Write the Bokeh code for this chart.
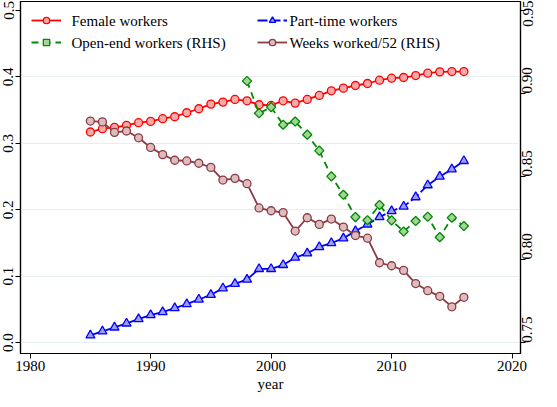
from bokeh.plotting import figure
from bokeh.models import Range1d, LinearAxis, FixedTicker, Legend, LegendItem, NumeralTickFormatter, Label
from bokeh.embed import file_html
from bokeh.resources import INLINE
import math

years = [1985, 1986, 1987, 1988, 1989, 1990, 1991, 1992, 1993, 1994, 1995, 1996,
         1997, 1998, 1999, 2000, 2001, 2002, 2003, 2004, 2005, 2006, 2007, 2008,
         2009, 2010, 2011, 2012, 2013, 2014, 2015, 2016]
female = [0.317, 0.322, 0.324, 0.327, 0.331, 0.333, 0.337, 0.340, 0.346, 0.352, 0.359, 0.362,
          0.366, 0.364, 0.358, 0.357, 0.364, 0.3605, 0.366, 0.372, 0.379, 0.383, 0.387, 0.390,
          0.395, 0.398, 0.399, 0.402, 0.4055, 0.4075, 0.408, 0.408]
parttime = [0.011, 0.017, 0.023, 0.029, 0.0356, 0.0415, 0.046, 0.052, 0.058, 0.065, 0.072, 0.082,
            0.0886, 0.095, 0.111, 0.111, 0.117, 0.128, 0.1345, 0.144, 0.150, 0.157, 0.168, 0.178,
            0.189, 0.198, 0.205, 0.219, 0.237, 0.250, 0.261, 0.2735]
weeks = [0.8834, 0.8829, 0.8766, 0.8774, 0.8733, 0.8675, 0.8632, 0.8598, 0.8594, 0.858, 0.8555, 0.8479,
         0.8489, 0.8457, 0.8311, 0.8294, 0.8283, 0.8172, 0.8252, 0.8212, 0.8244, 0.8196, 0.8145, 0.8129,
         0.7981, 0.7963, 0.7935, 0.7856, 0.7813, 0.7779, 0.7716, 0.7773]
oe_years = [1998, 1999, 2000, 2001, 2002, 2003, 2004, 2005, 2006, 2007, 2008, 2009, 2010,
            2011, 2012, 2013, 2014, 2015, 2016]
openend = [0.9075, 0.8881, 0.8918, 0.8812, 0.8831, 0.8752, 0.8656, 0.8501, 0.8390, 0.8256,
           0.8237, 0.8329, 0.8236, 0.8169, 0.8232, 0.8258, 0.8135, 0.8252, 0.8202]

series_labels = ["Female workers", "Part-time workers",
                 "Open-end workers (RHS)", "Weeks worked/52 (RHS)"]
left_ticks = [0.0, 0.1, 0.2, 0.3, 0.4, 0.5]
right_ticks = [0.75, 0.80, 0.85, 0.90, 0.95]
x_ticks = [1980, 1990, 2000, 2010, 2020]

FONT = "Liberation Serif"
FS = "15px"

X0, X1 = 1979.2, 2020.7
Y0, Y1 = -0.0163, 0.5134

p = figure(frame_width=500, frame_height=352, output_backend="svg", toolbar_location=None,
           x_range=Range1d(X0, X1), y_range=Range1d(Y0, Y1),
           min_border_left=19, min_border_right=0, min_border_top=1, min_border_bottom=0,
           background_fill_color="white", border_fill_color="white")
p.extra_y_ranges = {"rhs": Range1d(0.74348, 0.95536)}

p.outline_line_color = "black"
p.outline_line_width = 1.2
p.xgrid.visible = False
p.ygrid.ticker = FixedTicker(ticks=[0.0, 0.1, 0.2, 0.3, 0.4])
p.ygrid.grid_line_color = "#e6eff0"
p.ygrid.grid_line_width = 1.2

rax = LinearAxis(y_range_name="rhs")
p.add_layout(rax, "right")

p.xaxis.ticker = FixedTicker(ticks=x_ticks)
p.yaxis[0].ticker = FixedTicker(ticks=left_ticks)
p.yaxis[0].formatter = NumeralTickFormatter(format="0.0")
rax.ticker = FixedTicker(ticks=right_ticks)
rax.formatter = NumeralTickFormatter(format="0.00")
p.xaxis.axis_label = "year"

for ax in [p.xaxis[0], p.yaxis[0], rax]:
    ax.axis_line_color = "black"
    ax.axis_line_width = 1.2
    ax.major_tick_line_color = "black"
    ax.major_tick_out = 5
    ax.major_tick_in = 0
    ax.minor_tick_line_color = None
    ax.major_label_text_font = FONT
    ax.major_label_text_font_size = FS
    ax.major_label_text_color = "black"
    ax.axis_label_text_font = FONT
    ax.axis_label_text_font_size = FS
    ax.axis_label_text_font_style = "normal"
    ax.axis_label_text_color = "black"
    ax.major_label_standoff = 2
p.yaxis[0].major_label_orientation = "vertical"
rax.major_label_orientation = math.pi / 2
p.xaxis.axis_label_standoff = 2

l1 = p.line(years, female, line_color="#ff0000", line_width=1.8)
s1 = p.scatter(years, female, marker="circle", size=8, line_color="#ff0000",
               fill_color="#f6a9a9", line_width=1.3)

l2 = p.line(years, parttime, line_color="#0000ff", line_width=1.8, line_dash="10 3")
s2 = p.scatter(years, parttime, marker="triangle", size=9, line_color="#0000ff",
               fill_color="#9e9ee8", line_width=1.3)

l3 = p.line(oe_years, openend, line_color="#008a00", line_width=1.8, line_dash="7 5",
            y_range_name="rhs")
s3 = p.scatter(oe_years, openend, marker="square", angle=math.pi / 4, size=6.5, line_color="#008a00",
               fill_color="#a4d49a", line_width=1.3, y_range_name="rhs")

l4 = p.line(years, weeks, line_color="#8c3a44", line_width=1.8, y_range_name="rhs")
s4 = p.scatter(years, weeks, marker="circle", size=8, line_color="#8c3a44",
               fill_color="#dcbcbc", line_width=1.3, y_range_name="rhs")

# legend keys (glyph samples); the label texts are drawn as serif Labels below
legend = Legend(items=[
    LegendItem(label="", renderers=[l1, s1]),
    LegendItem(label="", renderers=[l2, s2]),
    LegendItem(label="", renderers=[l3, s3]),
    LegendItem(label="", renderers=[l4, s4]),
], orientation="horizontal", ncols=2, location="top_left",
    glyph_width=30, glyph_height=16, label_height=16, label_standoff=9,
    label_width=181, spacing=6, padding=10, margin=1,
    border_line_alpha=0, background_fill_alpha=0.0)
p.add_layout(legend)

label_offsets = [(51, -19), (269, -19), (51, -41), (269, -41)]
for txt, (dx, dy) in zip(series_labels, label_offsets):
    p.add_layout(Label(x=X0, y=Y1, x_offset=dx, y_offset=dy, text=txt,
                       text_font=FONT, text_font_size=FS, text_color="black",
                       text_baseline="middle", text_align="left"))

open("out.html", "w").write(file_html(p, INLINE))
